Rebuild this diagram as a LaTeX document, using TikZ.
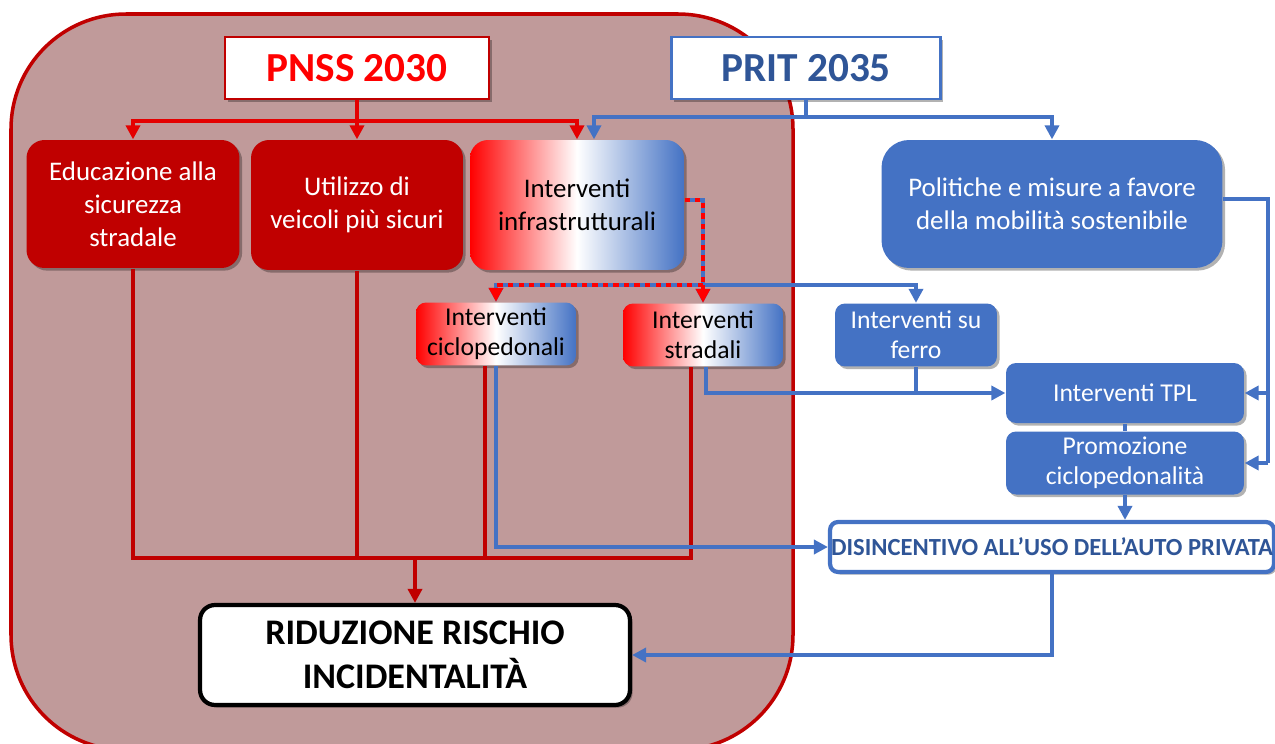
\documentclass[tikz,border=0pt]{standalone}
\usepackage{fontspec}
\setmainfont{Carlito}
\usetikzlibrary{arrows.meta,calc,shadows}

\definecolor{pnssred}{RGB}{255,0,0}
\definecolor{busred}{RGB}{228,0,0}
\definecolor{darkred}{RGB}{192,0,0}
\definecolor{bgrose}{RGB}{192,154,154}
\definecolor{pritblue}{RGB}{68,114,196}
\definecolor{navy}{RGB}{47,85,151}

\tikzset{every picture/.style={line width=0.75pt}}
\tikzset{
    boxshadow/.style={drop shadow={shadow xshift=1.5pt, shadow yshift=-1.5pt, opacity=0.3, fill=black}},
    headbox/.style={fill=white, line width=1.3pt, inner sep=0pt, minimum height=1.24cm, boxshadow,
        font=\bfseries\fontsize{23.5}{28}\selectfont},
    redbox/.style={fill=darkred, text=white, rounded corners=0.36cm, align=center, inner sep=0pt, boxshadow,
        font=\fontsize{15.3}{18.7}\selectfont},
    bluebox/.style={fill=pritblue, text=white, rounded corners=0.36cm, align=center, inner sep=0pt, boxshadow,
        font=\fontsize{15.3}{18.7}\selectfont},
    mixbox/.style={left color=pnssred, right color=pritblue, middle color=white, text=black, rounded corners=0.36cm,
        align=center, inner sep=0pt, boxshadow, font=\fontsize{15.3}{18.7}\selectfont},
    smallbox/.style={minimum width=3.2cm, minimum height=1.26cm, rounded corners=0.2cm,
        font=\fontsize{14.6}{17}\selectfont},
    redline/.style={draw=darkred, line width=2.2pt},
    topline/.style={draw=busred, line width=2.2pt},
    blueline/.style={draw=pritblue, line width=2.2pt},
    redblue/.style={draw=pnssred, line width=2.2pt, dash pattern=on 3pt off 3pt},
    tip/.style={-{Triangle[width=8pt,length=8pt]}}
}

\begin{document}
\begin{tikzpicture}[x=0.02cm, y=-0.02cm]
    \useasboundingbox (0,0) rectangle (1275,744);
    \begin{scope}
        \clip (0,0) rectangle (1275,744);
        \draw[line width=2pt, draw=darkred, fill=bgrose, rounded corners=2.3cm] (11,14) rectangle (793,750);
    \end{scope}
    % intestazioni
    \node[headbox, draw=darkred, text=pnssred, minimum width=5.28cm] (pnss) at (357,68) {PNSS 2030};
    \node[headbox, draw=pritblue, text=navy, minimum width=5.38cm] (prit) at (806,68) {PRIT 2035};
    % primo livello
    \node[redbox, minimum width=4.26cm, minimum height=2.56cm] (edu) at (133,204) {Educazione alla\\sicurezza\\stradale};
    \node[redbox, minimum width=4.24cm, minimum height=2.6cm] (veicoli) at (357,205) {Utilizzo di\\veicoli più sicuri};
    \node[mixbox, minimum width=4.28cm, minimum height=2.6cm] (infra) at (577,205) {Interventi\\infrastrutturali};
    \node[bluebox, minimum width=6.82cm, minimum height=2.56cm, rounded corners=0.55cm] (politiche) at (1052,204)
        {Politiche e misure a favore\\della mobilità sostenibile};
    % secondo livello
    \node[mixbox, smallbox] (ciclo) at (496,334) {Interventi\\ciclopedonali};
    \node[mixbox, smallbox] (stradali) at (703,335) {Interventi\\stradali};
    \node[bluebox, smallbox, minimum width=3.24cm] (ferro) at (916,335) {Interventi su\\ferro};
    \node[bluebox, smallbox, minimum width=4.76cm, minimum height=1.2cm] (tpl) at (1125,393) {Interventi TPL};
    \node[bluebox, smallbox, minimum width=4.76cm] (promo) at (1125,463) {Promozione\\ciclopedonalità};
    % esiti
    \node[fill=white, draw=pritblue, line width=2.4pt, rounded corners=0.16cm, text=navy, inner sep=0pt,
        minimum width=8.88cm, minimum height=1cm, boxshadow, font=\bfseries\fontsize{14}{17}\selectfont]
        (disinc) at (1052,547) {DISINCENTIVO ALL’USO DELL’AUTO PRIVATA};
    \node[fill=white, draw=black, line width=2.4pt, rounded corners=0.3cm, align=center, inner sep=0pt,
        minimum width=8.6cm, minimum height=2cm, boxshadow, font=\bfseries\fontsize{20.5}{25}\selectfont]
        (riduz) at (415,655) {RIDUZIONE RISCHIO\\INCIDENTALITÀ};

    % rami PNSS
    \coordinate (rbus) at ($(pnss.south)+(0,21)$);
    \draw[topline] (pnss.south) -- (rbus);
    \draw[topline, tip] (rbus) -| (edu.north);
    \draw[topline, tip] (rbus) -- (veicoli.north);
    \draw[topline, tip] (rbus) -| (infra.north);
    % rami PRIT
    \coordinate (bbus) at ($(prit.south)+(0,17)$);
    \coordinate (infrab) at ($(infra.north)+(17,0)$);
    \draw[blueline] (prit.south) -- (bbus);
    \draw[blueline, tip] (bbus) -| (infrab);
    \draw[blueline, tip] (bbus) -| (politiche.north);

    % verso la riduzione del rischio
    \coordinate (rbot) at ($(riduz.north)+(0,-45)$);
    \coordinate (cred) at ($(ciclo.south)+(-11,0)$);
    \coordinate (sred) at ($(stradali.south)+(-12,0)$);
    \draw[redline] (edu.south) |- (sred |- rbot) -- (sred);
    \draw[redline] (veicoli.south) -- (veicoli.south |- rbot);
    \draw[redline] (cred) -- (cred |- rbot);
    \draw[redline, tip] (rbot) -- (riduz.north);

    % infrastrutture
    \coordinate (dstart) at ($(infra.east)+(0,-5)$);
    \coordinate (djoin) at ($(stradali.north)+(0,-18)$);
    \draw[blueline, tip] (djoin) -| (ferro.north);
    \draw[blueline] (dstart) -| (djoin);
    \draw[blueline, tip] (djoin) -- (stradali.north);
    \draw[blueline, tip] (djoin) -| (ciclo.north);
    \draw[redblue] (dstart) -| (djoin);
    \draw[redblue, tip] (djoin) -- (stradali.north);
    \draw[redblue, tip] (djoin) -| (ciclo.north);

    % trasporto pubblico
    \coordinate (sblue) at ($(stradali.south)+(3,0)$);
    \draw[blueline, tip] (sblue) |- (tpl.west);
    \draw[blueline] (ferro.south) -- (ferro.south |- tpl.west);
    \coordinate (pright) at ($(politiche.east)+(45,-5)$);
    \draw[blueline] ($(politiche.east)+(0,-5)$) -- (pright) -- (pright |- promo.east);
    \draw[blueline, tip] (pright |- tpl.east) -- (tpl.east);
    \draw[blueline, tip] (pright |- promo.east) -- (promo.east);
    \draw[blueline] (tpl.south) -- (promo.north);
    \draw[blueline, tip] (promo.south) -- (promo.south |- disinc.north);
    \draw[blueline, tip] (ciclo.south) |- (disinc.west);
    \draw[blueline, tip] (disinc.south) |- (riduz.east);
\end{tikzpicture}
\end{document}
